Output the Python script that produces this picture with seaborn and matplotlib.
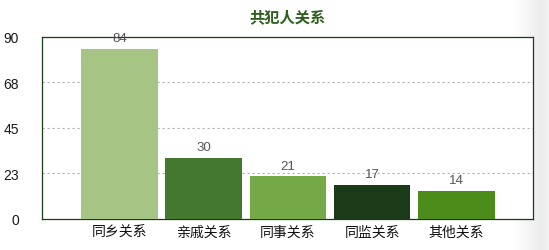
import matplotlib
matplotlib.use("Agg")
import matplotlib.pyplot as plt
import seaborn as sns
import numpy as np
import pandas as pd

categories = ["同乡关系", "亲戚关系", "同事关系", "同监关系", "其他关系"]
values = [84, 30, 21, 17, 14]
bar_colors = ["#a6c484", "#44782e", "#75a948", "#1b3a17", "#4c8c1a"]
yticks = [0, 22.5, 45, 67.5, 90]
ytick_labels = ["0", "23", "45", "68", "90"]
title = "共犯人关系"

sns.set_theme(style="white")
plt.rcParams["font.family"] = ["Liberation Sans", "Noto Sans CJK SC", "DejaVu Sans"]

fig = plt.figure(figsize=(5.49, 2.51), dpi=100)
fig.patch.set_facecolor("white")

# right-side light gray gradient
bg = fig.add_axes([512 / 549, 0, 37 / 549, 1], zorder=-5)
grad = np.concatenate([np.linspace(1.0, 0.92, 30), np.linspace(0.92, 0.95, 7)])
bg.imshow(np.tile(grad, (10, 1)), cmap="gray", vmin=0, vmax=1, aspect="auto",
          extent=[0, 1, 0, 1])
bg.axis("off")

ax = fig.add_axes([42.4 / 549, 31 / 251, (533 - 42.4) / 549, (220 - 37.5) / 251])
ax.set_facecolor("white")

df = pd.DataFrame({"cat": categories, "val": values})
sns.barplot(data=df, x="cat", y="val", hue="cat", palette=bar_colors,
            legend=False, width=0.907, saturation=1, ax=ax, zorder=3,
            linewidth=0)

ax.set_xlim(-0.912, 4.908)
ax.set_ylim(0, 90)
ax.set_yticks(yticks)
ax.set_yticklabels(ytick_labels, fontsize=10, color="#1a1a1a")
ax.set_xticks(range(len(categories)))
ax.set_xticklabels(categories, fontsize=10, color="#111111", fontweight="medium",
                   family=["Noto Sans CJK SC", "DejaVu Sans"])
ax.tick_params(axis="y", length=0, pad=17)
ax.tick_params(axis="x", length=0, pad=4)
ax.set_xlabel("")
ax.set_ylabel("")

for yv in yticks[1:-1]:
    ax.axhline(yv, color="#b0b0b0", lw=0.8, linestyle=(0, (2, 2.5)), zorder=1)

for s in ax.spines.values():
    s.set_color("#1b3a17")
    s.set_linewidth(0.9)
    s.set_visible(True)

for c in ax.containers:
    ax.bar_label(c, padding=3.5, fontsize=9.5, color="#555555", fmt="%d")

fig.text((42.4 + 533) / 2 / 549, 1 - 17 / 251, title, ha="center", va="center",
         fontsize=11, fontweight="bold", color="#2e5e1e",
         family=["Noto Sans CJK SC", "DejaVu Sans"])

fig.savefig("out.png", dpi=100)
